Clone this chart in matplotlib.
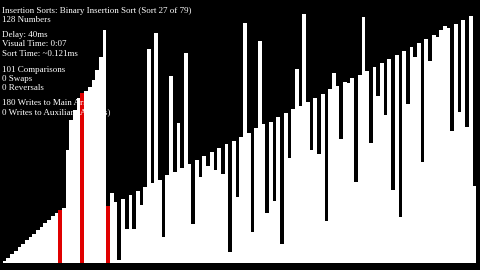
import numpy as np
import matplotlib
matplotlib.use('Agg')
import matplotlib.pyplot as plt

# Bar heights, left to right (128 numbers).
low_run = [1, 2.7, 4.4, 6.1, 7.9, 9.6, 11.3, 13, 14.7, 16.4, 18.1, 19.9, 21.6,
           23.3, 25, 26.5, 27.5]
high_run = [56.5, 71.5, 76.5, 82.5, 85, 86, 88, 91.5, 96.5, 103, 116.5]
rest = [28.5, 35, 30.5, 1.5, 32, 17, 34, 17, 36, 29, 38, 107, 40, 115, 41.5, 13,
        44, 93.3, 45.5, 70, 47.5, 105, 49.5, 19.5, 51.5, 42.8, 53.5, 48.5, 55.3,
        46.5, 57.3, 44.5, 59.3, 5.7, 61.2, 32.8, 63.2, 120, 65.2, 15.3, 67.3,
        111, 69.5, 25.2, 70.7, 31, 73, 9.5, 74.8, 52.5, 77, 97, 78.5, 124.5,
        80.7, 56.5, 82.3, 54.5, 84.3, 21, 86.8, 95, 88.5, 62, 90.7, 89.8, 92.3,
        40.7, 94, 122.8, 96.2, 60.2, 98.2, 83.5, 100.2, 73.8, 102, 36.5, 104,
        23.2, 106.2, 79.5, 108.2, 103.2, 110.2, 50.3, 112, 101, 114, 112.8,
        116.5, 118.5, 117.3, 66, 119.5, 75.7, 121.5, 67.8, 123.7, 38.7]
values = np.array(low_run + high_run + rest)

# Bars currently marked by the sort.
marked = [15, 21, 28]

lines = [
    'Insertion Sorts: Binary Insertion Sort (Sort 27 of 79)',
    '128 Numbers',
    'Delay: 40ms',
    'Visual Time: 0:07',
    'Sort Time: ~0.121ms',
    '101 Comparisons',
    '0 Swaps',
    '0 Reversals',
    '180 Writes to Main Array',
    '0 Writes to Auxiliary Array(s)',
]
line_y = [11.3, 20.3, 35, 43.7, 53.7, 70, 79.3, 88.3, 103.3, 112.7]

W, H = 480, 270
fig = plt.figure(figsize=(W / 100, H / 100), dpi=100, facecolor='black')
ax = fig.add_axes([0, 7 / H, 1, 1 - 7 / H])
ax.set_facecolor('black')

colors = ['white'] * len(values)
for i in marked:
    colors[i] = '#e00000'
ax.bar(np.arange(len(values)), values, width=1.0, align='edge',
       color=colors, linewidth=0)

ax.set_xlim(-2.7 / 3.7, (W - 2.7) / 3.7)
ax.set_ylim(0, 263 / 2)
ax.axis('off')

for text, y in zip(lines, line_y):
    fig.text(2.5 / W, 1 - y / H, text, color='white', fontsize=6.5,
             family='Liberation Serif', va='center', ha='left')

fig.savefig('out.png', dpi=100, facecolor='black')
